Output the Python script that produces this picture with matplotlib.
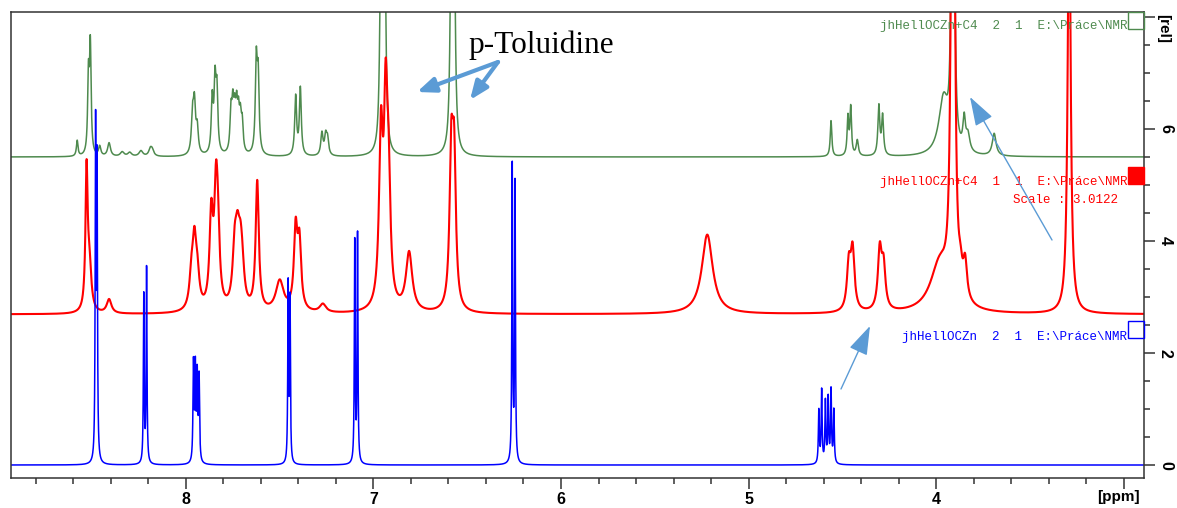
import numpy as np
import matplotlib
matplotlib.use('Agg')
from matplotlib import pyplot as plt
from matplotlib.ticker import MultipleLocator

# Peak lists: position [ppm], height above baseline, half width [ppm]
green_base = 5.5
green_pos = [8.58, 8.52, 8.51, 8.46, 8.41, 8.34, 8.30, 8.24, 8.19, 8.18,
             7.965, 7.955, 7.94, 7.86, 7.845, 7.835,
             7.76, 7.75, 7.74, 7.73, 7.72, 7.71, 7.70,
             7.625, 7.615, 7.415, 7.39, 7.275, 7.255, 7.245,
             6.96, 6.94, 6.585, 6.57,
             4.56, 4.47, 4.455, 4.42, 4.305, 4.285,
             3.96, 3.915, 3.905, 3.85, 3.83, 3.69]
green_amp = [0.28, 1.35, 1.9, 0.17, 0.24, 0.08, 0.07, 0.1, 0.12, 0.1,
             0.65, 0.85, 0.45, 0.95, 1.2, 1.05,
             0.7, 0.75, 0.6, 0.7, 0.6, 0.55, 0.5,
             1.6, 1.3, 1.05, 1.2, 0.4, 0.33, 0.28,
             4.0, 4.0, 4.0, 4.0,
             0.64, 0.68, 0.85, 0.28, 0.88, 0.7,
             1.0, 5.0, 5.0, 0.55, 0.3, 0.4]
green_wid = [0.005, 0.005, 0.005, 0.007, 0.009, 0.012, 0.012, 0.012, 0.01, 0.01,
             0.007, 0.007, 0.007, 0.006, 0.006, 0.006,
             0.006, 0.006, 0.006, 0.006, 0.006, 0.006, 0.006,
             0.006, 0.006, 0.006, 0.006, 0.007, 0.007, 0.007,
             0.007, 0.007, 0.007, 0.007,
             0.005, 0.005, 0.005, 0.007, 0.006, 0.006,
             0.03, 0.006, 0.006, 0.008, 0.012, 0.012]

red_base = 2.69
red_pos = [8.53, 8.515, 8.41,
           7.97, 7.955, 7.94, 7.865, 7.84, 7.83,
           7.74, 7.725, 7.71, 7.70, 7.62, 7.50, 7.415, 7.395, 7.27,
           6.96, 6.935, 6.92, 6.81, 6.585, 6.57,
           5.22, 4.465, 4.445, 4.30, 4.28,
           3.98, 3.915, 3.905, 3.87, 3.845, 3.29]
red_amp = [2.45, 0.8, 0.25,
           0.6, 1.0, 0.6, 1.6, 1.8, 1.1,
           0.95, 0.95, 0.75, 0.5, 2.3, 0.55, 1.4, 1.15, 0.15,
           3.0, 3.2, 2.0, 1.05, 2.6, 2.5,
           1.42, 0.8, 1.05, 1.05, 0.75,
           0.85, 6.0, 6.0, 0.35, 0.65, 8.0]
red_wid = [0.007, 0.012, 0.015,
           0.013, 0.011, 0.013, 0.011, 0.011, 0.011,
           0.013, 0.013, 0.013, 0.013, 0.01, 0.025, 0.011, 0.011, 0.02,
           0.012, 0.011, 0.012, 0.02, 0.011, 0.011,
           0.035, 0.012, 0.012, 0.012, 0.012,
           0.06, 0.009, 0.009, 0.012, 0.012, 0.009]

blue_base = 0.0
blue_pos = [8.482, 8.474, 8.225, 8.21,
            7.96, 7.95, 7.94, 7.93, 7.455, 7.445, 7.10, 7.085,
            6.26, 6.245, 4.625, 4.61, 4.59, 4.575, 4.56, 4.545]
blue_amp = [5.9, 5.2, 3.0, 3.5,
            1.75, 1.65, 1.5, 1.5, 3.2, 2.9, 3.95, 4.1,
            5.3, 5.0, 0.95, 1.3, 1.1, 1.15, 1.3, 0.95]
blue_wid = [0.0025, 0.0025, 0.0025, 0.0025,
            0.003, 0.003, 0.003, 0.003, 0.0025, 0.0025, 0.0025, 0.0025,
            0.0025, 0.0025, 0.003, 0.003, 0.003, 0.003, 0.003, 0.003]

labels = ['jhHellOCZn+C4  2  1  E:\\Práce\\NMR',
          'jhHellOCZn+C4  1  1  E:\\Práce\\NMR',
          'jhHellOCZn  2  1  E:\\Práce\\NMR']
scale_text = 'Scale : 3.0122'

green = '#4e8a4e'
red = '#ff0000'
blue = '#0000ff'
arrow_col = '#5b9bd5'

ppm = np.linspace(8.95, 2.87, 12000)

def spectrum(base, pos, amp, wid):
    y = np.full_like(ppm, base)
    for p, a, w in zip(pos, amp, wid):
        y += a * w**2 / ((ppm - p)**2 + w**2)
    return y

fig = plt.figure(figsize=(11.77, 5.08), dpi=100)
ax = fig.add_axes([11/1177, 30/508, 1133/1177, 466/508])

ax.plot(ppm, spectrum(green_base, green_pos, green_amp, green_wid), color=green, lw=1.1)
ax.plot(ppm, spectrum(red_base, red_pos, red_amp, red_wid), color=red, lw=1.5)
ax.plot(ppm, spectrum(blue_base, blue_pos, blue_amp, blue_wid), color=blue, lw=1.1)

ax.set_xlim(8.933, 2.891)
ax.set_ylim(-0.232, 8.089)

for s in ax.spines.values():
    s.set_color('#333333')
    s.set_linewidth(1.1)

sans = 'Liberation Sans'
ax.set_xticks([3, 4, 5, 6, 7, 8])
ax.set_xticklabels(['', '4', '5', '6', '7', '8'])
ax.xaxis.set_minor_locator(MultipleLocator(0.2))
ax.yaxis.tick_right()
ax.set_yticks([0, 2, 4, 6, 8])
ax.set_yticklabels(['0', '2', '4', '6', ''])
ax.yaxis.set_minor_locator(MultipleLocator(0.5))
ax.tick_params(axis='both', which='major', direction='out', length=8, width=1.1,
               color='#333333', labelsize=11.5)
ax.tick_params(axis='both', which='minor', direction='out', length=4.5, width=1.1,
               color='#333333')
ax.tick_params(axis='x', which='major', pad=2)
ax.tick_params(axis='y', which='major', pad=2)
for t in ax.get_xticklabels() + ax.get_yticklabels():
    t.set_fontweight('bold')
    t.set_family(sans)
for t in ax.get_yticklabels():
    t.set_rotation(-90)
    t.set_va('center')

ax.text(1118/1177, 1 - 497/508, '[ppm]', transform=fig.transFigure, ha='center', va='center',
        fontsize=11, fontweight='bold', family=sans)
ax.text(1163/1177, 1 - 29/508, '[rel]', transform=fig.transFigure, ha='center', va='center',
        fontsize=11, fontweight='bold', rotation=-90, family=sans)

# trace labels and legend boxes
mono = dict(family='Liberation Mono', fontsize=9, ha='right', va='center', transform=fig.transFigure)
ax.text(1127/1177, 1 - 26/508, labels[0], color=green, **mono)
ax.text(1127/1177, 1 - 182/508, labels[1], color=red, **mono)
ax.text(1118/1177, 1 - 200/508, scale_text, color=red, **mono)
ax.text(1127/1177, 1 - 337/508, labels[2], color=blue, **mono)

box_w, box_h = 16/1177, 17/508
fig.patches.append(plt.Rectangle((1128/1177, 1 - 29/508), box_w, box_h, transform=fig.transFigure,
                                 fill=False, edgecolor=green, lw=1.0))
fig.patches.append(plt.Rectangle((1128/1177, 1 - 184/508), box_w, box_h, transform=fig.transFigure,
                                 facecolor=red, edgecolor=red, lw=1.0))
fig.patches.append(plt.Rectangle((1128/1177, 1 - 338/508), box_w, box_h, transform=fig.transFigure,
                                 fill=False, edgecolor=blue, lw=1.0))

# p-Toluidine annotation
ax.text(541/1177, 1 - 45/508, 'p-Toluidine', transform=fig.transFigure, ha='center', va='center',
        family='Liberation Serif', fontsize=22.5)

def arrow(x0, y0, x1, y1, lw, hw, hl):
    ax.annotate('', xy=(x1/1177, 1 - y1/508), xytext=(x0/1177, 1 - y0/508),
                xycoords='figure fraction', textcoords='figure fraction',
                arrowprops=dict(arrowstyle='-|>,head_width=%g,head_length=%g' % (hw, hl),
                                color=arrow_col, lw=lw, shrinkA=0, shrinkB=0))

arrow(498, 62, 417, 92, 3.0, 0.45, 1.1)
arrow(498, 62, 470, 100, 3.0, 0.45, 1.1)
arrow(1052, 240, 970, 97, 1.0, 0.6, 1.8)
arrow(841, 389, 870, 326, 1.0, 0.6, 1.8)

fig.savefig('out.png', dpi=100)
